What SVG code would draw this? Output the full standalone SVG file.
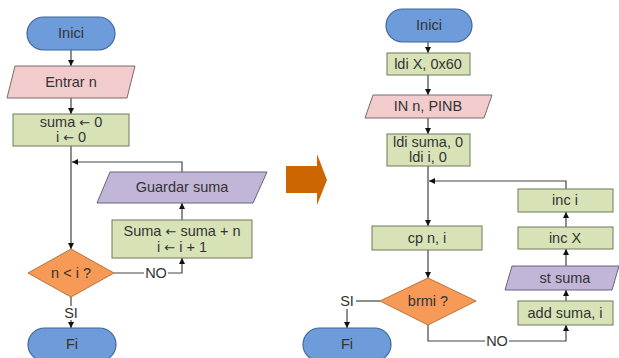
<svg xmlns="http://www.w3.org/2000/svg" width="619" height="358" viewBox="0 0 619 358">
<defs>
<marker id="ah" viewBox="0 0 10 10" refX="10" refY="5" markerWidth="6" markerHeight="6" orient="auto-start-reverse" markerUnits="userSpaceOnUse">
<path d="M0,0 L10,5 L0,10 z" fill="#111"/>
</marker>
<style>
.t{font-family:"Liberation Sans",Arial,sans-serif;font-size:14.5px;fill:#333;text-anchor:middle;dominant-baseline:central}
.ar{font-family:"DejaVu Sans",sans-serif;font-size:13px}
.term{fill:#6e9bd9;stroke:#41679c;stroke-width:1.2}
.io{fill:#f2cccc;stroke:#7a6a6a;stroke-width:1}
.proc{fill:#d7e3b6;stroke:#6f7a5a;stroke-width:1}
.out{fill:#c2b6d8;stroke:#6a627a;stroke-width:1}
.dec{fill:#f79a57;stroke:#b8733e;stroke-width:1}
.c{fill:none;stroke:#444;stroke-width:1.2}
.ca{fill:none;stroke:#444;stroke-width:1.2;marker-end:url(#ah)}
.lb{fill:#fff}
</style>
</defs>
<rect width="619" height="358" fill="#fff"/>

<g id="connectors">
<line class="ca" x1="71" y1="50" x2="71" y2="66"/>
<line class="ca" x1="71" y1="98" x2="71" y2="114"/>
<line class="ca" x1="71" y1="146" x2="71" y2="249"/>
<polyline class="ca" points="182,172 182,162 72,162"/>
<line class="ca" x1="182" y1="220" x2="182" y2="203"/>
<polyline class="ca" points="114,273 182,273 182,258"/>
<line class="ca" x1="71" y1="297" x2="71" y2="328"/>
<rect class="lb" x="144" y="266" width="24" height="14"/>
<text class="t" x="156" y="273">NO</text>
<rect class="lb" x="62" y="306" width="18" height="14"/>
<text class="t" x="71" y="313">SI</text>

<line class="ca" x1="428" y1="42" x2="428" y2="53"/>
<line class="ca" x1="428" y1="75" x2="428" y2="95"/>
<line class="ca" x1="428" y1="118" x2="428" y2="134"/>
<line class="ca" x1="428" y1="166" x2="428" y2="226"/>
<polyline class="ca" points="566,189 566,181 429,181"/>
<line class="ca" x1="428" y1="250" x2="428" y2="278"/>
<line class="c" x1="380" y1="301" x2="356" y2="301"/>
<text class="t" x="347" y="301">SI</text>
<line class="ca" x1="347" y1="309" x2="347" y2="328"/>
<polyline class="ca" points="428,325 428,341 566,341 566,325"/>
<rect class="lb" x="485" y="334" width="24" height="14"/>
<text class="t" x="497" y="341">NO</text>
<line class="ca" x1="566" y1="301" x2="566" y2="290"/>
<line class="ca" x1="566" y1="266" x2="566" y2="249"/>
<line class="ca" x1="566" y1="227" x2="566" y2="212"/>
</g>

<g id="l-inici"><rect class="term" x="27" y="17" width="88" height="33" rx="16.5"/><text class="t" x="71" y="33">Inici</text></g>
<g id="l-entrar"><polygon class="io" points="15,66 135,66 127,98 7,98"/><text class="t" x="71" y="82">Entrar n</text></g>
<g id="l-init"><rect class="proc" x="13" y="114" width="116" height="32"/><text class="t" x="71" y="122">suma <tspan class="ar">←</tspan> 0</text><text class="t" x="71" y="137">i <tspan class="ar">←</tspan> 0</text></g>
<g id="l-guardar"><polygon class="out" points="110,172 267,172 253,203 97,203"/><text class="t" x="182" y="187">Guardar suma</text></g>
<g id="l-suma"><rect class="proc" x="112" y="220" width="140" height="38"/><text class="t" x="182" y="231">Suma <tspan class="ar">←</tspan> suma + n</text><text class="t" x="182" y="247">i <tspan class="ar">←</tspan> i + 1</text></g>
<g id="l-dec"><polygon class="dec" points="71,249 114,273 71,297 28,273"/><text class="t" x="71" y="273">n &lt; i ?</text></g>
<g id="l-fi"><rect class="term" x="28" y="328" width="88" height="33" rx="16.5"/><text class="t" x="72" y="344">Fi</text></g>

<g id="big-arrow"><polygon points="286,166 317,166 317,154 327,180 317,205 317,193 286,193" fill="#cc6600"/></g>

<g id="r-inici"><rect class="term" x="386" y="9" width="86" height="33" rx="16.5"/><text class="t" x="429" y="25">Inici</text></g>
<g id="r-ldix"><rect class="proc" x="387" y="53" width="83" height="22"/><text class="t" x="428" y="64">ldi X, 0x60</text></g>
<g id="r-in"><polygon class="io" points="373,95 492,95 484,118 365,118"/><text class="t" x="428" y="106">IN n, PINB</text></g>
<g id="r-ldi"><rect class="proc" x="387" y="134" width="83" height="32"/><text class="t" x="428" y="142">ldi suma, 0</text><text class="t" x="428" y="157">ldi i, 0</text></g>
<g id="r-cp"><rect class="proc" x="372" y="226" width="110" height="24"/><text class="t" x="427" y="238">cp n, i</text></g>
<g id="r-dec"><polygon class="dec" points="428,278 476,301 428,325 380,301"/><text class="t" x="428" y="301">brmi ?</text></g>
<g id="r-fi"><rect class="term" x="303" y="328" width="88" height="33" rx="16.5"/><text class="t" x="347" y="344">Fi</text></g>
<g id="r-add"><rect class="proc" x="518" y="301" width="95" height="24"/><text class="t" x="565" y="313">add suma, i</text></g>
<g id="r-st"><polygon class="out" points="512,266 619,266 612,290 505,290"/><text class="t" x="565" y="278">st suma</text></g>
<g id="r-incx"><rect class="proc" x="518" y="227" width="95" height="22"/><text class="t" x="565" y="238">inc X</text></g>
<g id="r-inci"><rect class="proc" x="518" y="189" width="95" height="23"/><text class="t" x="565" y="200">inc i</text></g>
</svg>
